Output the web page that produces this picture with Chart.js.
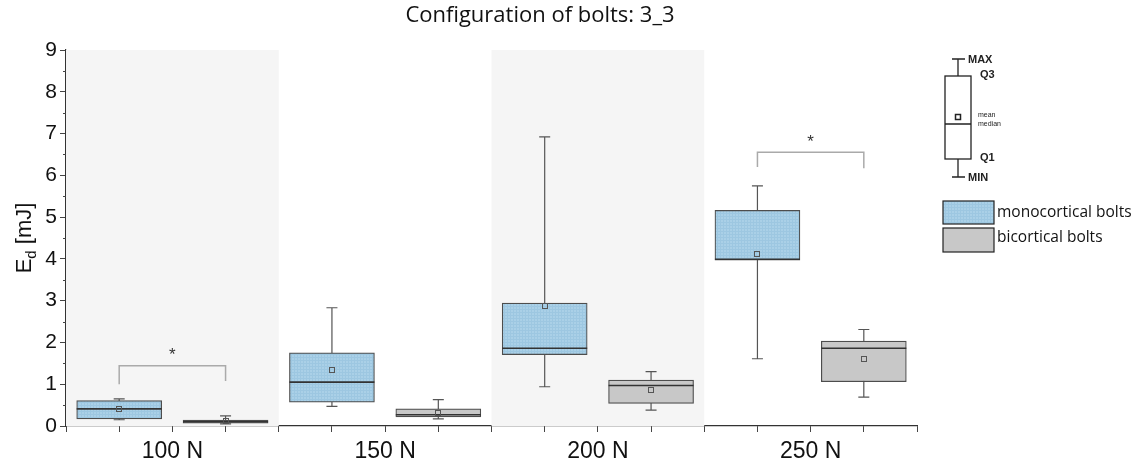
<!DOCTYPE html>
<html>
<head>
<meta charset="utf-8">
<script src="https://cdn.jsdelivr.net/npm/chart.js@4.4.1/dist/chart.umd.min.js"></script>
<style>
  html, body { margin: 0; padding: 0; background: #fff; }
</style>
</head>
<body>
<canvas id="chart" width="1142" height="467"></canvas>
<script>
// ---- data ----
const groups = ['100 N', '150 N', '200 N', '250 N'];
const xMono = [1, 3, 5, 7];
const xBi = [2, 4, 6, 8];

const monoMin    = [0.15, 0.47, 0.94, 1.61];
const monoQ1     = [0.17, 0.57, 1.71, 3.97];
const monoMedian = [0.41, 1.05, 1.86, 3.99];
const monoMean   = [0.40, 1.34, 2.87, 4.11];
const monoQ3     = [0.61, 1.75, 2.94, 5.16];
const monoMax    = [0.65, 2.83, 6.92, 5.75];

const biMin    = [0.05, 0.17, 0.38, 0.69];
const biQ1     = [0.07, 0.22, 0.54, 1.06];
const biMedian = [0.10, 0.27, 0.97, 1.86];
const biMean   = [0.12, 0.31, 0.86, 1.60];
const biQ3     = [0.14, 0.41, 1.10, 2.03];
const biMax    = [0.24, 0.63, 1.30, 2.31];

// shaded bands behind groups (x range)
const bandFrom = [0.5, 4.5];
const bandTo   = [2.5, 6.5];

// significance brackets
const sigLeft  = [1, 7];
const sigRight = [2, 8];
const sigTop   = [1.44, 6.55];
const sigLegL  = [1.00, 6.20];
const sigLegR  = [1.08, 6.17];
const sigStarY = [1.77, 6.87];

const canvas = document.getElementById('chart');
const ctx0 = canvas.getContext('2d');

// fine grid texture like the original fill
function makePattern(base, line) {
  const c = document.createElement('canvas');
  c.width = 3; c.height = 3;
  const g = c.getContext('2d');
  g.fillStyle = base; g.fillRect(0, 0, 3, 3);
  g.fillStyle = line; g.fillRect(0, 0, 3, 1); g.fillRect(0, 0, 1, 3);
  return ctx0.createPattern(c, 'repeat');
}
const bluePattern = makePattern('rgb(170,208,231)', 'rgb(157,199,225)');
const grayFill = 'rgb(200,200,200)';

const stats = [
  { min: monoMin, median: monoMedian, mean: monoMean, max: monoMax },
  { min: biMin, median: biMedian, mean: biMean, max: biMax },
];

const boxPlugin = {
  id: 'boxDecor',
  beforeDatasetsDraw(chart) {
    const { ctx, chartArea, scales: { x, y } } = chart;
    ctx.save();
    // background bands
    ctx.fillStyle = 'rgb(245,245,245)';
    bandFrom.forEach((b, i) => {
      const x0 = x.getPixelForValue(b), x1 = x.getPixelForValue(bandTo[i]);
      ctx.fillRect(x0, chartArea.top, x1 - x0, chartArea.bottom - chartArea.top);
    });
    // whiskers
    ctx.strokeStyle = '#555';
    ctx.lineWidth = 1.2;
    chart.data.datasets.forEach((ds, di) => {
      const meta = chart.getDatasetMeta(di);
      const s = stats[di];
      meta.data.forEach((el, i) => {
        const yMin = y.getPixelForValue(s.min[i]);
        const yMax = y.getPixelForValue(s.max[i]);
        ctx.beginPath();
        ctx.moveTo(el.x, yMax); ctx.lineTo(el.x, yMin);
        ctx.moveTo(el.x - 5.5, yMax); ctx.lineTo(el.x + 5.5, yMax);
        ctx.moveTo(el.x - 5.5, yMin); ctx.lineTo(el.x + 5.5, yMin);
        ctx.stroke();
      });
    });
    ctx.restore();
  },
  afterDatasetsDraw(chart) {
    const { ctx, scales: { x, y } } = chart;
    ctx.save();
    chart.data.datasets.forEach((ds, di) => {
      const meta = chart.getDatasetMeta(di);
      const s = stats[di];
      meta.data.forEach((el, i) => {
        const half = el.width / 2;
        const ym = y.getPixelForValue(s.median[i]);
        ctx.strokeStyle = '#333';
        ctx.lineWidth = 1.6;
        ctx.beginPath();
        ctx.moveTo(el.x - half, ym); ctx.lineTo(el.x + half, ym);
        ctx.stroke();
        const ya = y.getPixelForValue(s.mean[i]);
        ctx.strokeStyle = '#555';
        ctx.lineWidth = 1;
        ctx.strokeRect(Math.round(el.x) - 2.5, Math.round(ya) - 2.5, 5, 5);
      });
    });
    // brackets + stars
    ctx.strokeStyle = '#aaa';
    ctx.lineWidth = 1.5;
    sigLeft.forEach((l, i) => {
      const xl = x.getPixelForValue(l), xr = x.getPixelForValue(sigRight[i]);
      const yt = y.getPixelForValue(sigTop[i]);
      ctx.beginPath();
      ctx.moveTo(xl, y.getPixelForValue(sigLegL[i]));
      ctx.lineTo(xl, yt); ctx.lineTo(xr, yt);
      ctx.lineTo(xr, y.getPixelForValue(sigLegR[i]));
      ctx.stroke();
      ctx.fillStyle = '#333';
      ctx.font = '17px "Liberation Sans"';
      ctx.textAlign = 'center';
      ctx.textBaseline = 'middle';
      ctx.fillText('*', (xl + xr) / 2, y.getPixelForValue(sigStarY[i]) + 3);
    });
    ctx.restore();
  },
  afterDraw(chart) {
    const { ctx, chartArea, scales: { y } } = chart;
    ctx.save();
    // minor y ticks
    ctx.strokeStyle = '#444';
    ctx.lineWidth = 1;
    for (let v = 0.5; v < 9; v += 1) {
      const py = Math.round(y.getPixelForValue(v)) + 0.5;
      ctx.beginPath();
      ctx.moveTo(chartArea.left - 3, py); ctx.lineTo(chartArea.left, py);
      ctx.stroke();
    }
    // y axis title with subscript
    ctx.translate(31, 238);
    ctx.rotate(-Math.PI / 2);
    ctx.fillStyle = '#111';
    ctx.textBaseline = 'alphabetic';
    ctx.textAlign = 'left';
    const big = '22px "Liberation Sans"', small = '15px "Liberation Sans"';
    ctx.font = big; const wE = ctx.measureText('E').width;
    ctx.font = small; const wd = ctx.measureText('d').width;
    ctx.font = big; const wR = ctx.measureText(' [mJ]').width;
    let tx = -(wE + wd + wR) / 2;
    ctx.font = big; ctx.fillText('E', tx, 0); tx += wE;
    ctx.font = small; ctx.fillText('d', tx, 5); tx += wd;
    ctx.font = big; ctx.fillText(' [mJ]', tx, 0);
    ctx.restore();

    ctx.save();
    // title
    ctx.fillStyle = '#111';
    ctx.font = '22px "Open Sans"';
    ctx.textAlign = 'center';
    ctx.textBaseline = 'middle';
    ctx.fillText('Configuration of bolts: 3_3', 540, 16);

    // key: box schematic
    ctx.strokeStyle = '#222';
    ctx.lineWidth = 1.3;
    ctx.beginPath();
    ctx.moveTo(958, 59); ctx.lineTo(958, 76);
    ctx.moveTo(958, 159); ctx.lineTo(958, 177);
    ctx.moveTo(952, 59); ctx.lineTo(965, 59);
    ctx.moveTo(952, 177); ctx.lineTo(965, 177);
    ctx.moveTo(945, 124); ctx.lineTo(971, 124);
    ctx.stroke();
    ctx.strokeRect(945, 76, 26, 83);
    ctx.lineWidth = 1.5;
    ctx.strokeRect(955.5, 114.5, 5, 5);
    ctx.fillStyle = '#222';
    ctx.textAlign = 'left';
    ctx.font = 'bold 11px "Liberation Sans"';
    ctx.fillText('MAX', 968, 60);
    ctx.fillText('Q3', 980, 75);
    ctx.fillText('Q1', 980, 158);
    ctx.fillText('MIN', 968, 178);
    ctx.font = '7px "Liberation Sans"';
    ctx.fillText('mean', 978, 115);
    ctx.fillText('median', 978, 124);

    // key: series swatches
    ctx.lineWidth = 1.2;
    ctx.fillStyle = bluePattern;
    ctx.fillRect(943, 201, 51, 23);
    ctx.strokeRect(943, 201, 51, 23);
    ctx.fillStyle = grayFill;
    ctx.fillRect(943, 228, 51, 24);
    ctx.strokeRect(943, 228, 51, 24);
    ctx.fillStyle = '#111';
    ctx.font = '15.5px "Open Sans"';
    ctx.fillText('monocortical bolts', 997, 213);
    ctx.fillText('bicortical bolts', 997, 238);
    ctx.restore();
  }
};

new Chart(canvas, {
  type: 'bar',
  data: {
    datasets: [
      {
        label: 'monocortical bolts',
        data: xMono.map((p, i) => ({ x: p, y: [monoQ1[i], monoQ3[i]] })),
        backgroundColor: bluePattern,
        borderColor: '#4d4d4d',
        borderWidth: 1.2,
        borderSkipped: false,
        grouped: false,
        barThickness: 85,
      },
      {
        label: 'bicortical bolts',
        data: xBi.map((p, i) => ({ x: p, y: [biQ1[i], biQ3[i]] })),
        backgroundColor: grayFill,
        borderColor: '#4d4d4d',
        borderWidth: 1.2,
        borderSkipped: false,
        grouped: false,
        barThickness: 85,
      },
    ],
  },
  options: {
    responsive: false,
    animation: false,
    layout: { padding: { left: 0, right: 225, top: 50, bottom: 0 } },
    plugins: { legend: { display: false }, tooltip: { enabled: false } },
    scales: {
      x: {
        type: 'linear', min: 0.5, max: 8.5, position: 'bottom', weight: 0, offset: false,
        ticks: { stepSize: 0.5, display: false },
        grid: { offset: false, drawOnChartArea: false, tickLength: 6, tickColor: '#444' },
        border: { color: '#333', width: 1.2 },
        afterFit: s => { s.height = 6; },
      },
      x2: {
        type: 'category', labels: groups, position: 'bottom', offset: true, weight: 1,
        grid: { display: false, drawTicks: false },
        border: { display: false },
        ticks: { font: { size: 23, family: 'Liberation Sans' }, color: '#111', padding: 6 },
        afterFit: s => { s.height = 35; },
      },
      y: {
        min: 0, max: 9,
        ticks: { stepSize: 1, font: { size: 21, family: 'Liberation Sans' }, color: '#111', padding: 3 },
        grid: { drawOnChartArea: false, tickLength: 6, tickColor: '#444' },
        border: { color: '#333', width: 1.2 },
        afterFit: s => { s.width = 66; },
      },
    },
  },
  plugins: [boxPlugin],
});
</script>
</body>
</html>
